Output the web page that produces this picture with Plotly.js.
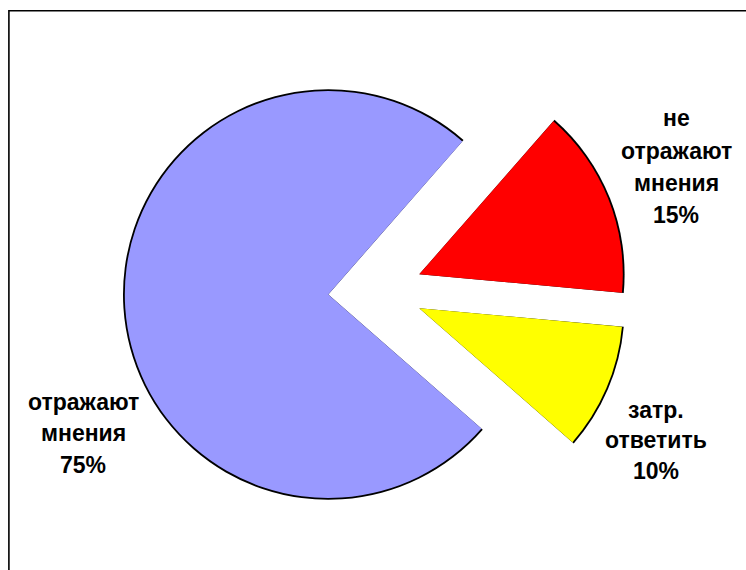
<!DOCTYPE html>
<html>
<head>
<meta charset="utf-8">
<script src="https://cdn.plot.ly/plotly-3.0.1.min.js"></script>
<style>html,body{margin:0;padding:0;background:#fff;}#chart{width:746px;height:570px;}</style>
</head>
<body>
<div id="chart"></div>
<script>
// ---- data ----
const categories = ['не отражают мнения', 'затр. ответить', 'отражают мнения'];
const values = [15, 10, 75];
const colors = ['#FF0000', '#FFFF00', '#9999FF'];

// ---- layout geometry (pixels) ----
const W = 746, H = 570;
const R = 203.5;          // slice radius
const OUTLINE = 1.8;      // arc outline thickness
const ROTATION = 41.2;    // first slice start, degrees clockwise from 12 o'clock
// vertex (centre) of each slice, after explosion
const centres = [[419.3, 274.3], [419.3, 308.2], [328.3, 294.5]];
// label blocks: centre x, first line y, line spacing
const labelPos = [
  {x: 676, y0: 118.5, dy: 32.2},
  {x: 656, y0: 409.5, dy: 30.8},
  {x: 83, y0: 401.5, dy: 31.5}
];
const FONT = {family: '"Liberation Sans", Arial, sans-serif', size: 23, color: '#000'};

function domainFor(c, r) {
  return {
    x: [(c[0] - r) / W, (c[0] + r) / W],
    y: [1 - (c[1] + r) / H, 1 - (c[1] - r) / H]
  };
}

const traces = [];
categories.forEach((cat, i) => {
  const only = (col) => categories.map((_, j) => j === i ? col : 'rgba(0,0,0,0)');
  // black underlay giving the arc outline
  traces.push({
    type: 'pie', values: values, labels: categories, sort: false,
    direction: 'clockwise', rotation: ROTATION,
    domain: domainFor(centres[i], R + OUTLINE),
    marker: {colors: only('#000000'), line: {width: 0}},
    textinfo: 'none', hoverinfo: 'skip', showlegend: false
  });
  // coloured slice
  traces.push({
    type: 'pie', values: values, labels: categories, sort: false,
    direction: 'clockwise', rotation: ROTATION,
    domain: domainFor(centres[i], R),
    marker: {colors: only(colors[i]), line: {width: 0}},
    textinfo: 'none', hoverinfo: 'label+percent', showlegend: false
  });
});

const annotations = [];
categories.forEach((cat, i) => {
  const lines = cat.split(' ').concat([values[i] + '%']);
  lines.forEach((ln, k) => {
    annotations.push({
      xref: 'paper', yref: 'paper',
      x: labelPos[i].x / W, y: 1 - (labelPos[i].y0 + k * labelPos[i].dy) / H,
      xanchor: 'center', yanchor: 'middle',
      text: '<b>' + ln + '</b>', showarrow: false, font: FONT
    });
  });
});

const layout = {
  width: W, height: H,
  margin: {l: 0, r: 0, t: 0, b: 0},
  paper_bgcolor: '#ffffff', plot_bgcolor: '#ffffff',
  showlegend: false,
  annotations: annotations,
  shapes: [{
    type: 'rect', xref: 'paper', yref: 'paper',
    x0: 8.9 / W, x1: 1.05, y0: -0.05, y1: 1 - 10.8 / H,
    line: {color: '#000', width: 1.6}, fillcolor: 'rgba(0,0,0,0)'
  }]
};

Plotly.newPlot('chart', traces, layout, {displayModeBar: false, staticPlot: true});
</script>
</body>
</html>
